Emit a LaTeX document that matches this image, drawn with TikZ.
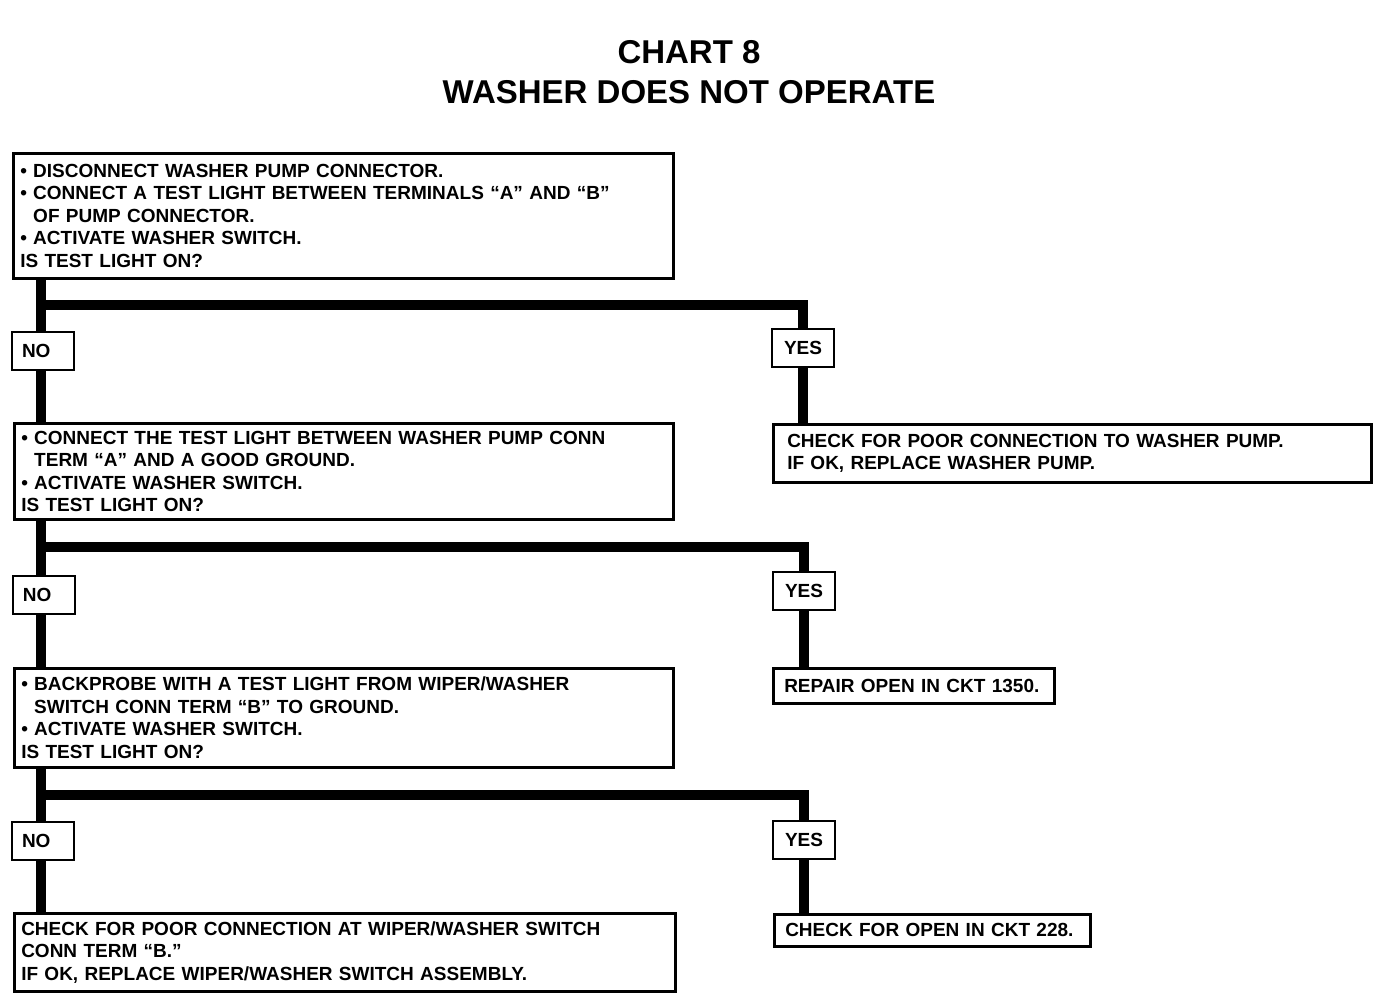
\documentclass[tikz,border=0pt]{standalone}
\usepackage{fontspec}
\setmainfont{Liberation Sans}
\usetikzlibrary{positioning}
\newcommand{\bul}{\textbullet\ }
\newcommand{\bulgap}{\phantom{\textbullet\ }}

\begin{document}
\begin{tikzpicture}[x=1pt, y=-1pt,
  txt/.style={font=\bfseries\fontsize{19}{22.5}\selectfont},
  qbox/.style={txt, draw, line width=2.5pt, anchor=north west, align=left, inner xsep=7pt, inner ysep=0pt},
  abox/.style={qbox, inner xsep=14pt},
  tag/.style={txt, draw, line width=2.5pt, minimum width=62pt, minimum height=38pt, inner sep=0pt},
  notag/.style={tag, align=left, text width=42pt, inner xsep=10pt},
  wire/.style={line width=10pt, line join=miter}]
  \useasboundingbox (0,0) rectangle (1376,998);
  % Title:
  \node[font=\bfseries\fontsize{33}{40}\selectfont] (title) at (689,52) {CHART 8};
  \node[font=\bfseries\fontsize{33}{40}\selectfont] (subtitle) at (689,92) {WASHER DOES NOT OPERATE};
  % Boxes:
  \node[qbox, text width=646pt, minimum height=125pt] (q1) at (12,152) {\bul DISCONNECT WASHER PUMP CONNECTOR.\\
    \bul CONNECT A TEST LIGHT BETWEEN TERMINALS “A” AND “B”\\
    \bulgap OF PUMP CONNECTOR.\\
    \bul ACTIVATE WASHER SWITCH.\\
    IS TEST LIGHT ON?};
  \node[notag] (no1) at (43,351) {NO};
  \node[tag] (yes1) at (803,348) {YES};
  \node[qbox, text width=645pt, minimum height=96pt] (q2) at (13,422) {\bul CONNECT THE TEST LIGHT BETWEEN WASHER PUMP CONN\\
    \bulgap TERM “A” AND A GOOD GROUND.\\
    \bul ACTIVATE WASHER SWITCH.\\
    IS TEST LIGHT ON?};
  \node[abox, text width=570pt, minimum height=58pt] (r1) at (772,423) {CHECK FOR POOR CONNECTION TO WASHER PUMP.\\
    IF OK, REPLACE WASHER PUMP.};
  \node[notag] (no2) at (44,595) {NO};
  \node[tag] (yes2) at (804,591) {YES};
  \node[qbox, text width=645pt, minimum height=99pt] (q3) at (13,667) {\bul BACKPROBE WITH A TEST LIGHT FROM WIPER/WASHER\\
    \bulgap SWITCH CONN TERM “B” TO GROUND.\\
    \bul ACTIVATE WASHER SWITCH.\\
    IS TEST LIGHT ON?};
  \node[abox, inner xsep=11pt, text width=259pt, minimum height=35pt] (r2) at (772,667) {REPAIR OPEN IN CKT 1350.};
  \node[notag] (no3) at (43,841) {NO};
  \node[tag] (yes3) at (804,840) {YES};
  \node[qbox, text width=647pt, minimum height=78pt] (q4) at (13,912) {CHECK FOR POOR CONNECTION AT WIPER/WASHER SWITCH\\
    CONN TERM “B.”\\
    IF OK, REPLACE WIPER/WASHER SWITCH ASSEMBLY.};
  \node[abox, inner xsep=11pt, text width=294pt, minimum height=32pt] (r3) at (773,913) {CHECK FOR OPEN IN CKT 228.};
  % Wires:
  \coordinate (j1) at (41,305);
  \coordinate (j2) at (41,547);
  \coordinate (j3) at (41,795);
  \draw[wire] (q1.south -| j1) -- (no1.north -| j1);
  \draw[wire] (j1) -| (yes1.north);
  \draw[wire] (no1.south -| j1) -- (q2.north -| j1);
  \draw[wire] (yes1.south) -- (r1.north -| yes1.south);
  \draw[wire] (q2.south -| j2) -- (no2.north -| j2);
  \draw[wire] (j2) -| (yes2.north);
  \draw[wire] (no2.south -| j2) -- (q3.north -| j2);
  \draw[wire] (yes2.south) -- (r2.north -| yes2.south);
  \draw[wire] (q3.south -| j3) -- (no3.north -| j3);
  \draw[wire] (j3) -| (yes3.north);
  \draw[wire] (no3.south -| j3) -- (q4.north -| j3);
  \draw[wire] (yes3.south) -- (r3.north -| yes3.south);
\end{tikzpicture}
\end{document}
